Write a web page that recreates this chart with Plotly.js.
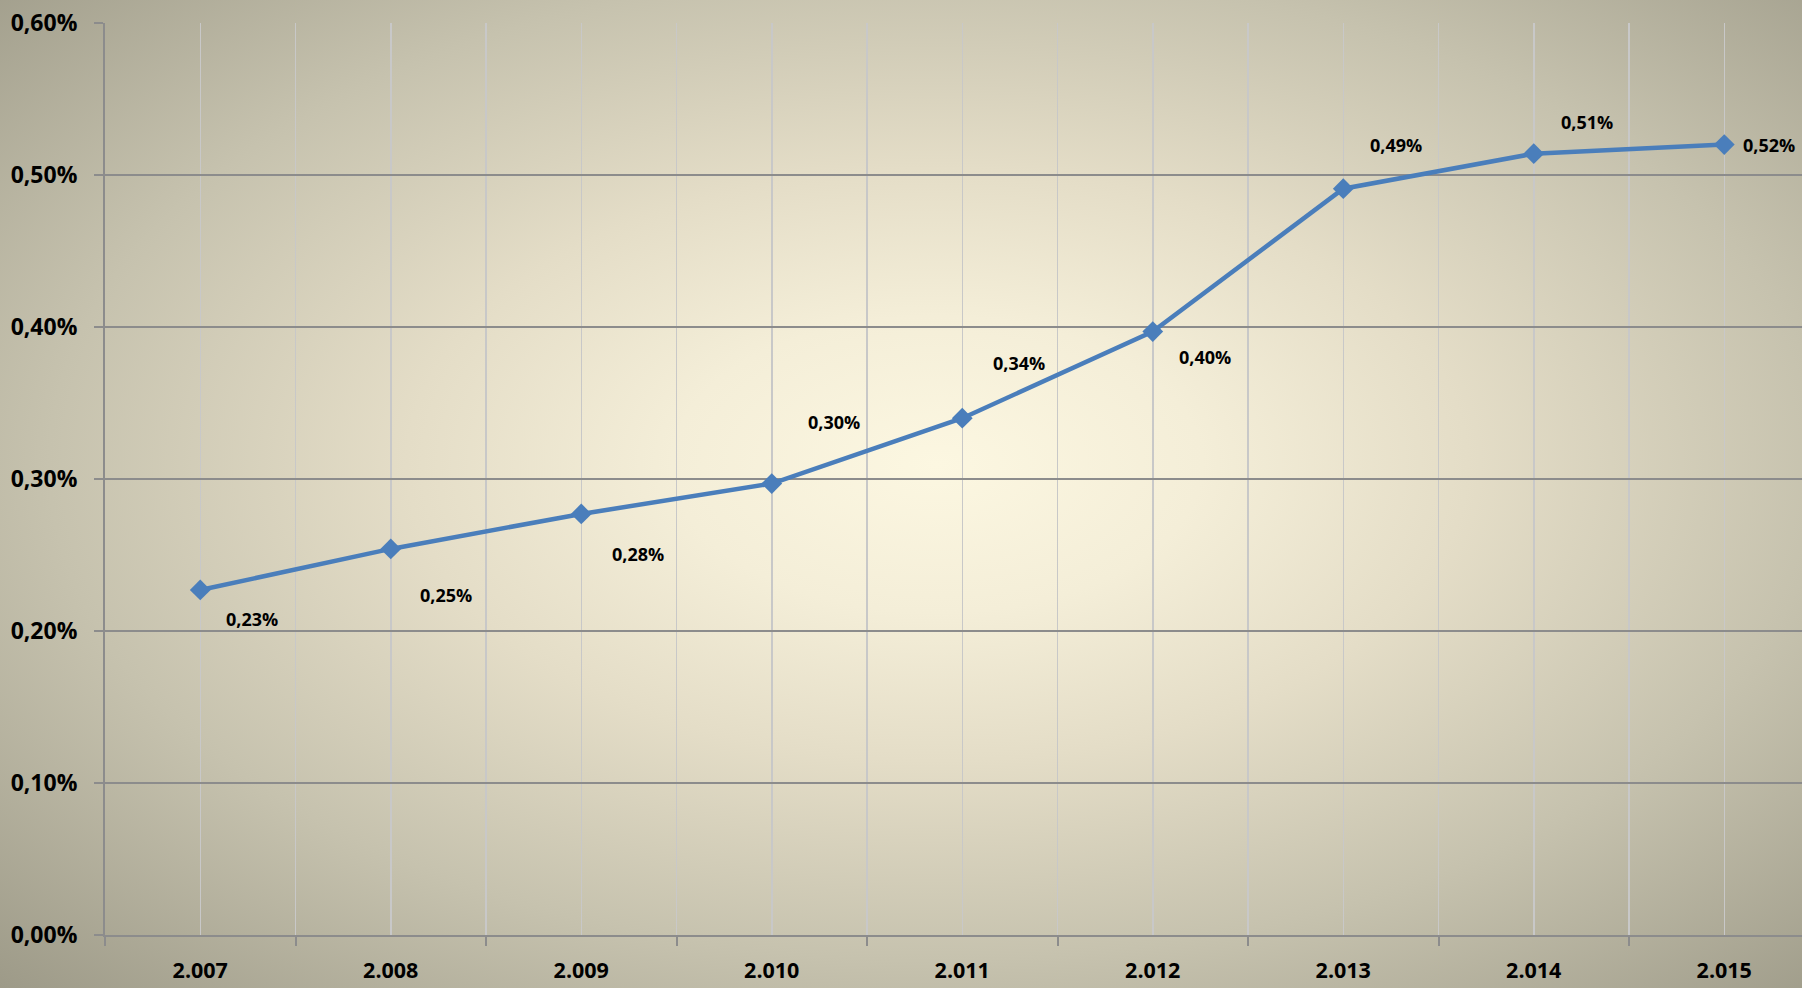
<!DOCTYPE html>
<html>
<head>
<meta charset="utf-8">
<script src="https://cdn.plot.ly/plotly-3.0.1.min.js"></script>
<style>
  html, body { margin: 0; padding: 0; }
  #chart {
    width: 1802px; height: 988px;
    background: radial-gradient(ellipse farthest-corner at 52% 47%, #fcf7e1 0%, #f4eed8 20%, #e4ddc7 40%, #c6c2ae 67%, #9d9a88 100%);
  }
</style>
</head>
<body>
<div id="chart"></div>
<script>
// Data
const years = ['2.007', '2.008', '2.009', '2.010', '2.011', '2.012', '2.013', '2.014', '2.015'];
const values = [0.227, 0.254, 0.277, 0.297, 0.340, 0.397, 0.491, 0.514, 0.520]; // percent
const yTicks = [0, 0.1, 0.2, 0.3, 0.4, 0.5, 0.6];

// Label offsets (pixels) - layout only
const labelDX = [52, 55, 57, 62, 57, 52, 53, 53, 45];
const labelDY = [-29, -46, -40, 62, 55, -25, 44, 32, 0];

const idx = years.map((_, i) => i);
const fmt = v => v.toFixed(2).replace('.', ',') + '%';

const FONT = 'Open Sans, Lato, sans-serif';

const trace = {
  x: idx,
  y: values,
  type: 'scatter',
  mode: 'lines+markers',
  line: { color: '#4a7ebb', width: 4.5 },
  marker: { symbol: 'diamond', size: 16, color: '#4a7ebb' },
  hoverinfo: 'skip'
};

const annotations = idx.map(i => ({
  x: i, y: values[i], xref: 'x', yref: 'y',
  text: fmt(values[i]),
  showarrow: false,
  xshift: labelDX[i], yshift: labelDY[i],
  xanchor: 'center', yanchor: 'middle',
  font: { family: FONT, size: 18, color: '#000', weight: 700 }
}));

const layout = {
  width: 1802, height: 988,
  margin: { l: 105, r: 0, t: 23, b: 53 },
  paper_bgcolor: 'rgba(0,0,0,0)',
  plot_bgcolor: 'rgba(0,0,0,0)',
  separators: ',.',
  showlegend: false,
  xaxis: {
    range: [-0.5, 8.408],
    tickmode: 'array',
    tickvals: idx,
    ticktext: years,
    ticks: '',
    showgrid: true,
    gridcolor: '#c8c8c8',
    gridwidth: 1.5,
    zeroline: false,
    showline: true,
    linecolor: '#8c8c8c',
    linewidth: 2,
    ticklabelstandoff: 15,
    tickfont: { family: FONT, size: 21.5, color: '#000', weight: 700 },
    minor: {
      tickmode: 'linear', tick0: -0.5, dtick: 1,
      ticks: 'outside', ticklen: 9, tickwidth: 2, tickcolor: '#8c8c8c',
      showgrid: true, gridcolor: '#c8c8c8', gridwidth: 1.5
    },
    fixedrange: true
  },
  yaxis: {
    range: [0, 0.6],
    tickmode: 'array',
    tickvals: yTicks,
    ticktext: yTicks.map(fmt),
    ticks: 'outside',
    ticklen: 9,
    tickwidth: 2,
    tickcolor: '#8c8c8c',
    showgrid: true,
    gridcolor: '#8c8c8c',
    gridwidth: 2,
    zeroline: false,
    showline: true,
    linecolor: '#8c8c8c',
    linewidth: 2,
    ticklabelstandoff: 12,
    tickfont: { family: FONT, size: 23, color: '#000', weight: 700 },
    fixedrange: true
  },
  annotations: annotations
};

Plotly.newPlot('chart', [trace], layout, { displayModeBar: false, staticPlot: true });
</script>
</body>
</html>
